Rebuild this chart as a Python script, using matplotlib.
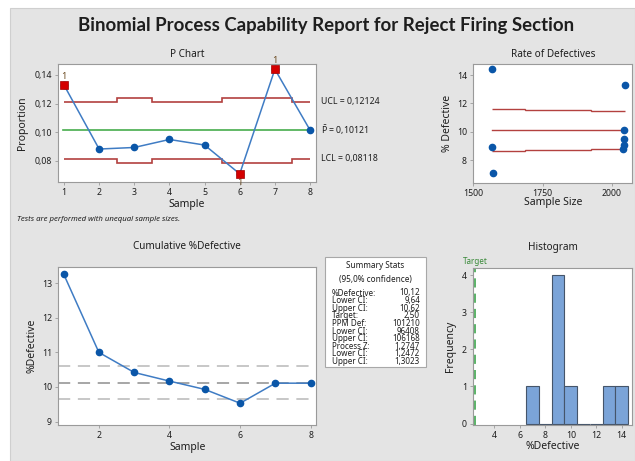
import numpy as np
import matplotlib
matplotlib.use("Agg")
import matplotlib.pyplot as plt
from matplotlib.patches import Rectangle
from matplotlib.ticker import FuncFormatter
import matplotlib.transforms as mtransforms

plt.rcParams['font.family'] = ['Noto Sans', 'DejaVu Sans']
plt.rcParams['mathtext.fontset'] = 'custom'
plt.rcParams['mathtext.rm'] = 'Noto Sans'
plt.rcParams['mathtext.it'] = 'Noto Sans:italic'

# -------------------------------------------------------------------
# Data
# -------------------------------------------------------------------
samples = np.arange(1, 9)
proportion = np.array([0.1330, 0.0881, 0.0892, 0.0948, 0.0909, 0.0707, 0.1440, 0.1014])
sample_size = np.array([2046, 2040, 1568, 2044, 2045, 1570, 1566, 2043])
cum_pct = np.array([13.27, 11.00, 10.42, 10.17, 9.93, 9.53, 10.11, 10.11])
out_of_control = [1, 6, 7]

p_bar = 0.10121
ucl_txt = "0,12124"
lcl_txt = "0,08118"
pbar_txt = "0,10121"

pct_defective = 10.12
pct_lower_ci = 9.64
pct_upper_ci = 10.62
target = 2.5

stat_labels = ["%Defective:", "Lower CI:", "Upper CI:", "Target:", "PPM Def:",
               "Lower CI:", "Upper CI:", "Process Z:", "Lower CI:", "Upper CI:"]
stat_values = ["10,12", "9,64", "10,62", "2,50", "101210",
               "96408", "106168", "1,2747", "1,2472", "1,3023"]

# -------------------------------------------------------------------
# Style
# -------------------------------------------------------------------
W, H = 635, 461
BG = '#e4e4e4'
BLUE = '#0a56a8'
LINE_BLUE = '#3f7cc4'
RED_LIM = '#b3413f'
GREEN = '#47ad4d'
SPINE = '#9a9a9a'
TXT = '#1e1e1e'


def fx(x):
    return x / W


def fy(y):
    return 1 - y / H


def box(l, t, r, b):
    return [fx(l), fy(b), (r - l) / W, (b - t) / H]


def comma(fmt):
    return FuncFormatter(lambda v, pos: format(v, fmt).replace('.', ','))


def style_axes(ax):
    ax.set_facecolor('white')
    for s in ax.spines.values():
        s.set_color(SPINE)
        s.set_linewidth(0.8)
    ax.tick_params(labelsize=6.3, colors=SPINE, labelcolor=TXT, length=2.5, width=0.6, pad=2)


fig = plt.figure(figsize=(W / 100, H / 100), dpi=100)
fig.patch.set_facecolor('white')
fig.patches.append(Rectangle((fx(10), 0), 1 - fx(10), fy(8), transform=fig.transFigure,
                             facecolor=BG, edgecolor='#cfcfcf', lw=0.8, zorder=-10))

fig.text(fx(326), fy(26), "Binomial Process Capability Report for Reject Firing Section",
         ha='center', va='center', fontsize=13.4, fontweight='bold', color=TXT,
         family=['Lato', 'DejaVu Sans'])

# -------------------------------------------------------------------
# P chart
# -------------------------------------------------------------------
ax1 = fig.add_axes(box(58, 64, 316, 182))
style_axes(ax1)
sigma = np.sqrt(p_bar * (1 - p_bar) / sample_size)
ucl = p_bar + 3 * sigma
lcl = p_bar - 3 * sigma
edges = np.concatenate([[samples[0]], samples[:-1] + 0.5, [samples[-1]]])
ax1.stairs(ucl, edges, baseline=None, color=RED_LIM, lw=1.2)
ax1.stairs(lcl, edges, baseline=None, color=RED_LIM, lw=1.2)
ax1.axhline(p_bar, xmin=0.02, xmax=0.98, color=GREEN, lw=1.2)
ax1.plot(samples, proportion, color=LINE_BLUE, lw=1.1, marker='o', ms=4.5,
         mfc=BLUE, mec=BLUE, zorder=3)
ooc = np.array(out_of_control) - 1
ax1.plot(samples[ooc], proportion[ooc], ls='none', marker='s', ms=6,
         mfc='#d40000', mec='#a00000', mew=0.5, zorder=4)
for i in ooc:
    below = proportion[i] < p_bar
    ax1.annotate("1", (samples[i], proportion[i]), xytext=(0, -3 if below else 3),
                 textcoords='offset points', ha='center', va='top' if below else 'bottom',
                 fontsize=6.5, color='#6b4a20')
ax1.set_xlim(0.83, 8.17)
ax1.set_ylim(0.065, 0.1477)
ax1.set_xticks(samples)
ax1.set_yticks([0.08, 0.10, 0.12, 0.14])
ax1.yaxis.set_major_formatter(comma('.2f'))
ax1.set_title("P Chart", fontsize=7.2, color=TXT, pad=5)
ax1.set_xlabel("Sample", fontsize=7.5, color=TXT)
ax1.set_ylabel("Proportion", fontsize=7.5, color=TXT)
ax1.xaxis.set_label_coords(0.5, -0.14)
ax1.yaxis.set_label_coords(-0.115, 0.5)
trans = mtransforms.blended_transform_factory(ax1.transAxes, ax1.transData)
ax1.text(1.02, ucl[-1], "UCL = " + ucl_txt, transform=trans, fontsize=6.3, va='center', color=TXT)
ax1.text(1.02, p_bar, r"$\bar{\mathrm{P}}$ = " + pbar_txt, transform=trans, fontsize=6.3, va='center', color=TXT)
ax1.text(1.02, lcl[-1], "LCL = " + lcl_txt, transform=trans, fontsize=6.3, va='center', color=TXT)
fig.text(fx(17), fy(219), "Tests are performed with unequal sample sizes.",
         fontsize=5.6, style='italic', va='center', color=TXT)

# -------------------------------------------------------------------
# Rate of defectives
# -------------------------------------------------------------------
ax2 = fig.add_axes(box(473.3, 64, 632.3, 182.7))
style_axes(ax2)
n_edges = np.linspace(sample_size.min(), sample_size.max(), 5)
n_sig = np.sqrt(p_bar * (1 - p_bar) / n_edges[:-1]) * 100
ax2.stairs(p_bar * 100 + 1.96 * n_sig, n_edges, baseline=None, color=RED_LIM, lw=1.0)
ax2.stairs(p_bar * 100 - 1.96 * n_sig, n_edges, baseline=None, color=RED_LIM, lw=1.0)
ax2.plot([n_edges[0], n_edges[-1]], [p_bar * 100] * 2, color=RED_LIM, lw=1.0)
ax2.plot(sample_size, proportion * 100, ls='none', marker='o', ms=4.5, mfc=BLUE, mec=BLUE, zorder=3)
ax2.set_xlim(1502, 2074)
ax2.set_ylim(6.4, 14.78)
ax2.set_xticks([1500, 1750, 2000])
ax2.set_yticks([8, 10, 12, 14])
ax2.set_title("Rate of Defectives", fontsize=7.2, color=TXT, pad=5)
ax2.set_xlabel("Sample Size", fontsize=7.5, color=TXT)
ax2.set_ylabel("% Defective", fontsize=7.5, color=TXT)
ax2.xaxis.set_label_coords(0.5, -0.12)
ax2.yaxis.set_label_coords(-0.125, 0.5)

# -------------------------------------------------------------------
# Cumulative %Defective
# -------------------------------------------------------------------
ax3 = fig.add_axes(box(58.3, 266.7, 316, 425))
style_axes(ax3)
ax3.axhline(pct_upper_ci, color='#b8b8b8', lw=1.1, dashes=(8, 5))
ax3.axhline(pct_defective, color='#8e8e8e', lw=1.1, dashes=(8, 5))
ax3.axhline(pct_lower_ci, color='#b8b8b8', lw=1.1, dashes=(8, 5))
ax3.plot(samples, cum_pct, color=LINE_BLUE, lw=1.1, marker='o', ms=4.5, mfc=BLUE, mec=BLUE, zorder=3)
ax3.set_xlim(0.85, 8.15)
ax3.set_ylim(8.9, 13.48)
ax3.set_xticks([2, 4, 6, 8])
ax3.set_yticks([9, 10, 11, 12, 13])
ax3.set_title("Cumulative %Defective", fontsize=7.2, color=TXT, pad=13)
ax3.set_xlabel("Sample", fontsize=7.5, color=TXT)
ax3.set_ylabel("%Defective", fontsize=7.5, color=TXT)
ax3.xaxis.set_label_coords(0.5, -0.105)
ax3.yaxis.set_label_coords(-0.08, 0.5)

# summary stats box
fig.patches.append(Rectangle((fx(325), fy(366.7)), (426 - 325) / W, (366.7 - 256.7) / H,
                             transform=fig.transFigure, facecolor='white',
                             edgecolor='#a8a8a8', lw=0.8))
fig.text(fx(375.5), fy(265), "Summary Stats", ha='center', va='center', fontsize=5.9, color=TXT)
fig.text(fx(375.5), fy(279), "(95,0% confidence)", ha='center', va='center', fontsize=5.9, color=TXT)
fig.text(fx(331.5), fy(288.5), "\n".join(stat_labels), ha='left', va='top',
         fontsize=5.8, linespacing=0.8, color=TXT)
fig.text(fx(420), fy(288.5), "\n".join(stat_values), ha='right', va='top',
         fontsize=5.8, linespacing=0.8, color=TXT, multialignment='right')

# -------------------------------------------------------------------
# Histogram
# -------------------------------------------------------------------
ax4 = fig.add_axes(box(473.3, 268, 631.7, 425))
style_axes(ax4)
ax4.hist(proportion * 100, bins=np.arange(6.5, 15.5, 1), color='#7ba4d8',
         edgecolor='#45556a', lw=0.8)
ax4.axvline(target, color='#2e9e3e', lw=1.1, dashes=(6, 4))
ax4.text(target, 1.01, "Target", transform=ax4.get_xaxis_transform(), ha='center',
         va='bottom', fontsize=5.8, color='#3a8a3a')
ax4.set_xlim(2.35, 14.78)
ax4.set_ylim(-0.04, 4.2)
ax4.set_xticks([4, 6, 8, 10, 12, 14])
ax4.set_yticks([0, 1, 2, 3, 4])
ax4.set_title("Histogram", fontsize=7.2, color=TXT, pad=13)
ax4.set_xlabel("%Defective", fontsize=7.5, color=TXT)
ax4.set_ylabel("Frequency", fontsize=7.5, color=TXT)
ax4.xaxis.set_label_coords(0.5, -0.1)
ax4.yaxis.set_label_coords(-0.11, 0.5)

fig.savefig("out.png", dpi=100, facecolor=fig.get_facecolor())
